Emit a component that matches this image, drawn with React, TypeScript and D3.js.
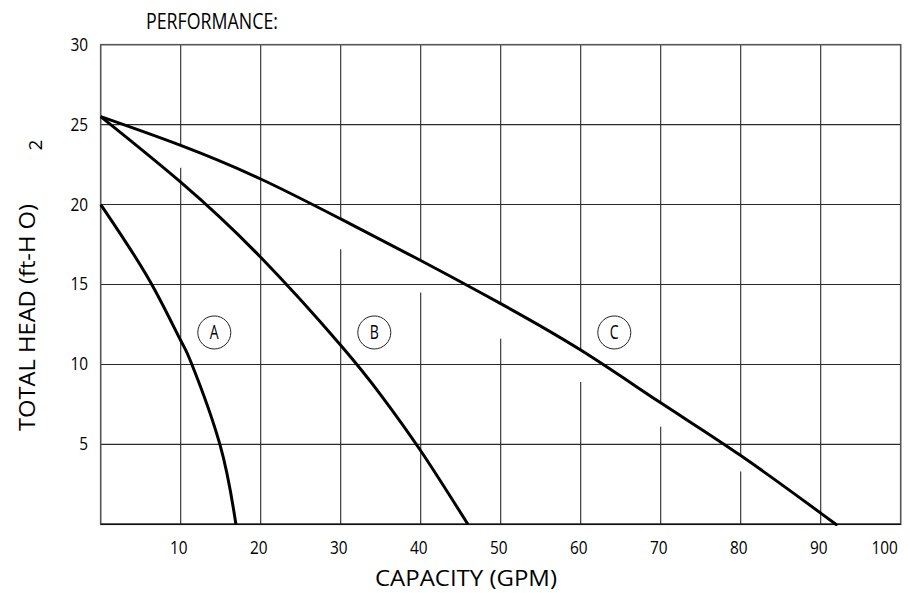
import { useRef, useEffect } from 'react';
import * as d3 from 'd3';

// pump performance curves, [capacity GPM, head ft]
const curveA = [[0, 20], [3.25, 17.56], [6.8, 14.63], [10, 11.5], [11.4, 10], [14.9, 5], [16.9, 0]];
const curveB = [[0, 25.5], [10, 21.4], [20, 16.7], [30, 11.2], [35, 8.1], [40, 4.6], [45.9, 0]];
const curveC = [[0, 25.5], [10, 23.7], [20, 21.6], [30, 19.1], [40, 16.5], [50, 13.8], [60, 10.9], [70, 7.6], [80, 4.3], [90, 0.7], [91.9, 0]];
const curveLabels = [['A', 14.2, 12], ['B', 34.2, 12], ['C', 64.2, 12]];

const xTicks = [10, 20, 30, 40, 50, 60, 70, 80, 90, 100];
const yTicks = [5, 10, 15, 20, 25, 30];
const vGrid = [10, 20, 30, 40, 50, 60, 70, 80, 90];
const hGrid = [5, 10, 15, 20, 25];
// vertical grid lines break just under curve C down to this head
const gridGaps = [[10, 22.3], [30, 17.2], [40, 14.5], [50, 11.6], [60, 8.9], [70, 6.1], [80, 3.3]];

const W = 910;
const H = 593;

function headOnC(q) {
  for (let i = 1; i < curveC.length; i++) {
    const [x0, y0] = curveC[i - 1];
    const [x1, y1] = curveC[i];
    if (q >= x0 && q <= x1) return y0 + ((q - x0) / (x1 - x0)) * (y1 - y0);
  }
  return 0;
}

export default function App() {
  const svgRef = useRef(null);

  useEffect(() => {
    const svg = d3.select(svgRef.current);
    svg.selectAll('*').remove();

    const x = d3.scaleLinear().domain([0, 100]).range([100.7, 900.7]);
    const y = d3.scaleLinear().domain([0, 30]).range([524.3, 44.7]);
    const font = "'Open Sans', 'Noto Sans', sans-serif";

    const grid = svg.append('g').attr('stroke', '#2a2a2a').attr('stroke-width', 1.1);

    hGrid.forEach((h) => {
      grid.append('line').attr('x1', x(0)).attr('x2', x(100)).attr('y1', y(h)).attr('y2', y(h));
    });

    vGrid.forEach((q) => {
      const gap = gridGaps.find((g) => g[0] === q);
      if (gap) {
        grid.append('line').attr('x1', x(q)).attr('x2', x(q)).attr('y1', y(30)).attr('y2', y(headOnC(q)));
        grid.append('line').attr('x1', x(q)).attr('x2', x(q)).attr('y1', y(gap[1])).attr('y2', y(0));
      } else {
        grid.append('line').attr('x1', x(q)).attr('x2', x(q)).attr('y1', y(30)).attr('y2', y(0));
      }
    });

    // frame
    svg.append('rect')
      .attr('x', x(0)).attr('y', y(30))
      .attr('width', x(100) - x(0)).attr('height', y(0) - y(30))
      .attr('fill', 'none').attr('stroke', '#555').attr('stroke-width', 1.6);
    svg.append('line')
      .attr('x1', x(0)).attr('x2', x(100)).attr('y1', y(0)).attr('y2', y(0))
      .attr('stroke', '#111').attr('stroke-width', 1.4);

    const line = d3.line()
      .x((d) => x(d[0]))
      .y((d) => y(d[1]))
      .curve(d3.curveNatural);

    [curveA, curveB, curveC].forEach((c) => {
      svg.append('path')
        .attr('d', line(c))
        .attr('fill', 'none')
        .attr('stroke', '#000')
        .attr('stroke-width', 3);
    });

    curveLabels.forEach(([t, q, h]) => {
      svg.append('circle')
        .attr('cx', x(q)).attr('cy', y(h)).attr('r', 16.5)
        .attr('fill', '#fff').attr('stroke', '#222').attr('stroke-width', 1);
      svg.append('text')
        .attr('x', x(q)).attr('y', y(h) + 7)
        .attr('text-anchor', 'middle')
        .attr('font-family', font).attr('font-size', 19.5)
        .attr('transform', `translate(${x(q)},0) scale(0.72,1) translate(${-x(q)},0)`)
        .text(t);
    });

    const tx = (d) => (d === 100 ? x(d) - 16 : x(d) - 2);
    svg.append('g')
      .selectAll('text')
      .data(xTicks)
      .join('text')
      .attr('x', tx)
      .attr('y', 554)
      .attr('text-anchor', 'middle')
      .attr('font-family', font)
      .attr('font-size', 17.5)
      .attr('transform', (d) => `translate(${tx(d)},0) scale(0.88,1) translate(${-tx(d)},0)`)
      .text((d) => d);

    svg.append('g')
      .selectAll('text')
      .data(yTicks)
      .join('text')
      .attr('x', 88)
      .attr('y', (d) => y(d) + 6)
      .attr('text-anchor', 'end')
      .attr('font-family', font)
      .attr('font-size', 17.5)
      .attr('transform', 'translate(88,0) scale(0.88,1) translate(-88,0)')
      .text((d) => d);

    svg.append('text')
      .attr('x', 146).attr('y', 29)
      .attr('font-family', font).attr('font-size', 21.5)
      .attr('textLength', 132).attr('lengthAdjust', 'spacingAndGlyphs')
      .text('PERFORMANCE:');

    svg.append('text')
      .attr('x', 375).attr('y', 586)
      .attr('font-family', font).attr('font-size', 22)
      .attr('textLength', 182).attr('lengthAdjust', 'spacingAndGlyphs')
      .text('CAPACITY (GPM)');

    svg.append('text')
      .attr('transform', 'translate(35,431) rotate(-90)')
      .attr('font-family', font).attr('font-size', 22.5)
      .attr('textLength', 227).attr('lengthAdjust', 'spacingAndGlyphs')
      .text('TOTAL HEAD (ft-H O)');

    svg.append('text')
      .attr('transform', 'translate(42,145) rotate(-90)')
      .attr('text-anchor', 'middle')
      .attr('font-family', font).attr('font-size', 19)
      .text('2');
  }, []);

  return (
    <div>
      <svg
        ref={svgRef}
        width={W}
        height={H}
        style={{ position: 'absolute', left: 0, top: 0, background: '#fff' }}
      />
    </div>
  );
}
